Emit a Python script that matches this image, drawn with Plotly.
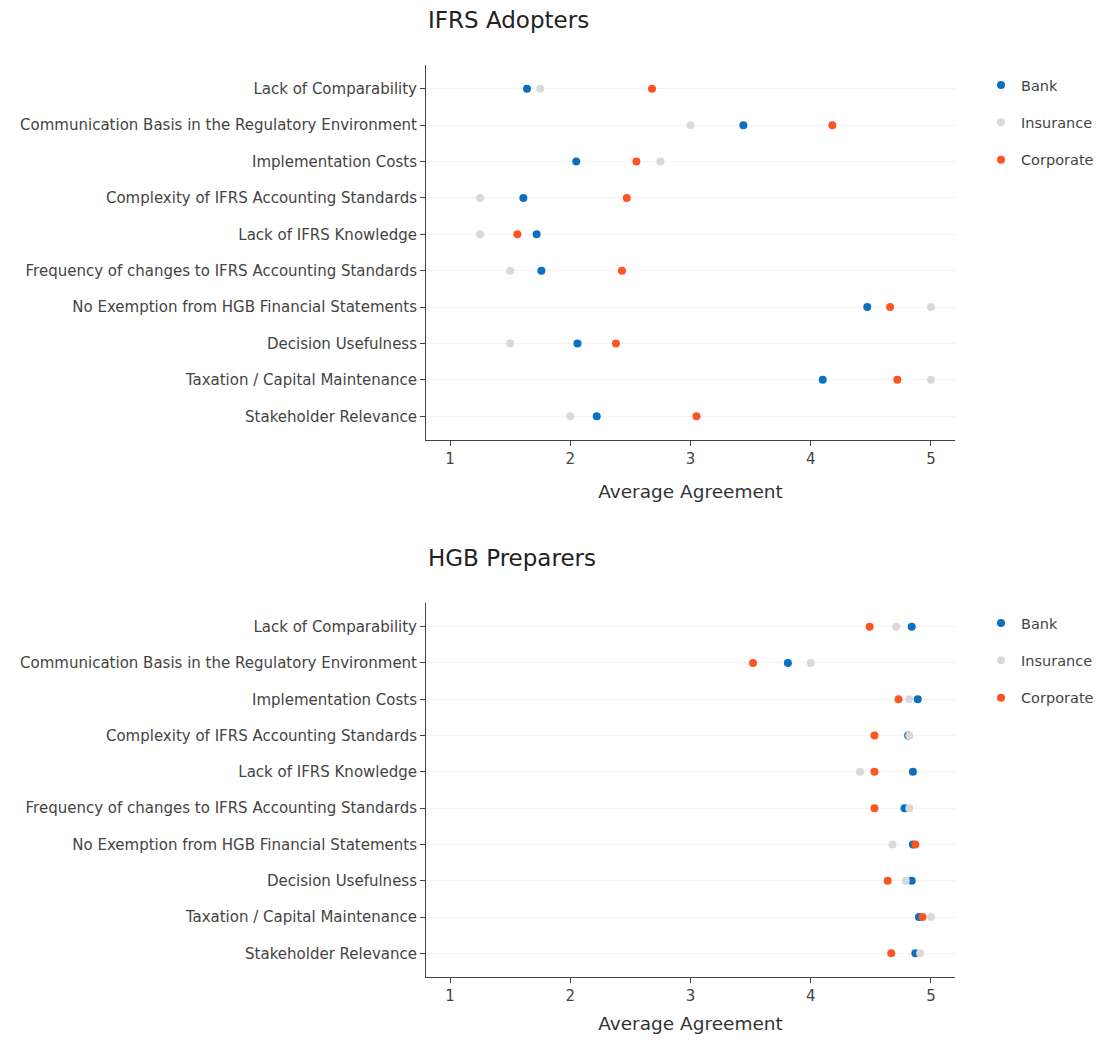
import plotly.graph_objects as go
from plotly.subplots import make_subplots

categories = [
    "Lack of Comparability",
    "Communication Basis in the Regulatory Environment",
    "Implementation Costs",
    "Complexity of IFRS Accounting Standards",
    "Lack of IFRS Knowledge",
    "Frequency of changes to IFRS Accounting Standards",
    "No Exemption from HGB Financial Statements",
    "Decision Usefulness",
    "Taxation / Capital Maintenance",
    "Stakeholder Relevance",
]

ifrs_bank = [1.64, 3.44, 2.05, 1.61, 1.72, 1.76, 4.47, 2.06, 4.10, 2.22]
ifrs_insurance = [1.75, 3.00, 2.75, 1.25, 1.25, 1.50, 5.00, 1.50, 5.00, 2.00]
ifrs_corporate = [2.68, 4.18, 2.55, 2.47, 1.56, 2.43, 4.66, 2.38, 4.72, 3.05]

hgb_bank = [4.84, 3.81, 4.89, 4.81, 4.85, 4.78, 4.85, 4.84, 4.90, 4.87]
hgb_insurance = [4.71, 4.00, 4.82, 4.82, 4.41, 4.82, 4.68, 4.79, 5.00, 4.91]
hgb_corporate = [4.49, 3.52, 4.73, 4.53, 4.53, 4.53, 4.87, 4.64, 4.93, 4.67]

series_names = ["Bank", "Insurance", "Corporate"]
colors = ["#0b6fc2", "#d9d9d9", "#fd5423"]

titles = ["IFRS Adopters", "HGB Preparers"]
x_title = "Average Agreement"
x_ticks = [1, 2, 3, 4, 5]

FONT = "DejaVu Sans"

W, H = 1086, 1026
ML, MR, MT, MB = 418, 139, 57, 57
PH = H - MT - MB  # 912

fig = make_subplots(rows=2, cols=1, vertical_spacing=0.18)

panels = [
    (ifrs_bank, ifrs_insurance, ifrs_corporate),
    (hgb_bank, hgb_insurance, hgb_corporate),
]
for r, vals in enumerate(panels, start=1):
    for name, v, c in zip(series_names, vals, colors):
        fig.add_trace(
            go.Scatter(
                x=v, y=categories, mode="markers", name=name,
                marker=dict(color=c, size=8),
                legend="legend" if r == 1 else "legend2",
                legendgroup=f"{name}{r}",
            ),
            row=r, col=1,
        )

top_dom = [(977 - 440) / PH, 1.0]
bot_dom = [0.0, (977 - 603) / PH]

axis_common = dict(showline=True, linecolor="#444", linewidth=1, ticks="outside",
                   tickcolor="#444", ticklen=5, tickfont=dict(size=15, color="#444"),
                   automargin=False)

for i, dom in ((1, top_dom), (2, bot_dom)):
    fig.update_yaxes(row=i, col=1, domain=dom, type="category",
                     categoryorder="array", categoryarray=categories,
                     autorange="reversed", showgrid=True, gridcolor="#f3f3f3",
                     zeroline=False, **axis_common)
    fig.update_xaxes(row=i, col=1, range=[0.8, 5.2], tickvals=x_ticks,
                     showgrid=False, zeroline=False,
                     title=dict(text=x_title, font=dict(size=18.5, color="#333"), standoff=18),
                     **axis_common)

legend_x = (ML + 529 + 26) / W

fig.update_layout(
    width=W, height=H,
    margin=dict(l=ML, r=MR, t=MT, b=MB),
    paper_bgcolor="white", plot_bgcolor="white",
    font=dict(family=FONT, color="#444", size=15),
    showlegend=True,
    legend=dict(xref="container", x=legend_x, y=1.0 - 4 / PH, xanchor="left", yanchor="top",
                tracegroupgap=15.5, font=dict(size=14.5, color="#444")),
    legend2=dict(xref="container", x=legend_x, y=bot_dom[1] - 4 / PH, xanchor="left",
                 yanchor="top", tracegroupgap=15.5, font=dict(size=14.5, color="#444")),
    annotations=[
        dict(text=titles[0], xref="paper", yref="paper", x=0, y=1 + 45 / PH,
             xanchor="left", yanchor="middle", showarrow=False,
             font=dict(size=23, color="#222")),
        dict(text=titles[1], xref="paper", yref="paper", x=0, y=bot_dom[1] + 45 / PH,
             xanchor="left", yanchor="middle", showarrow=False,
             font=dict(size=23, color="#222")),
    ],
)

fig.write_html("out.html")
